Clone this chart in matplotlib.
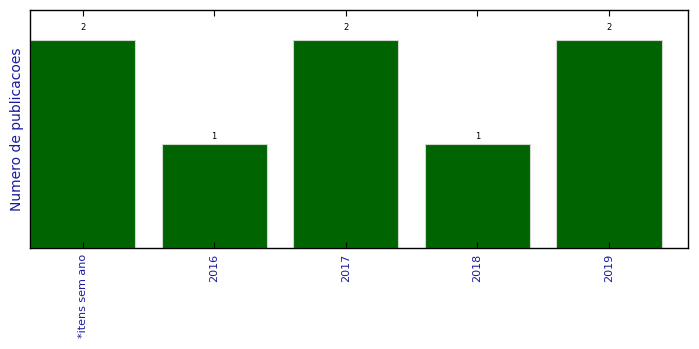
import numpy as np
import matplotlib
matplotlib.use('Agg')
import matplotlib.pyplot as plt

categories = ['*itens sem ano', '2016', '2017', '2018', '2019']
counts = [2, 1, 2, 1, 2]

fig = plt.figure(figsize=(6.99, 3.49), dpi=100)
ax = fig.add_axes([0.0429, 0.289, 0.9413, 0.682])

x = np.arange(len(categories))
bars = ax.bar(x, counts, width=0.8, color='#006400', edgecolor='#d0d8d0', linewidth=0.8)

for b, v in zip(bars, counts):
    ax.text(b.get_x() + b.get_width() / 2, 1.05 * v, str(v),
            ha='center', va='baseline', fontsize=6)

ax.set_xlim(-0.4, 4.6)
ax.set_ylim(0, 2.29)
ax.set_xticks(x)
ax.set_xticklabels(categories, rotation=90, fontsize=8, color='#1a1aa0')
ax.set_yticks([])
ax.tick_params(axis='x', direction='in', top=True, length=4, width=0.8, pad=4)
ax.set_ylabel('Numero de publicacoes', fontsize=10, color='#1a1aa0')
for s in ax.spines.values():
    s.set_linewidth(1)

fig.savefig('out.png', dpi=100)
